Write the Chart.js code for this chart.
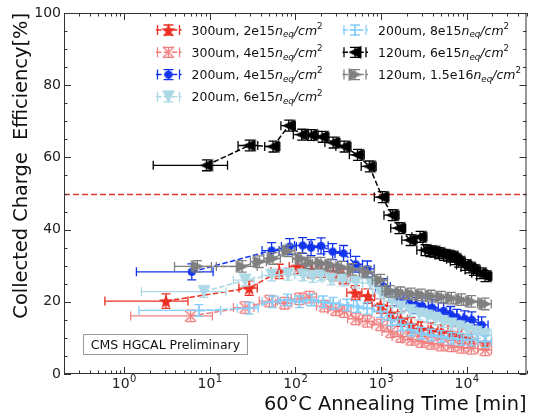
<!DOCTYPE html>
<html>
<head>
<meta charset="utf-8">
<script src="https://cdn.jsdelivr.net/npm/chart.js@4.4.0/dist/chart.umd.min.js"></script>
<style>
  html, body { margin: 0; padding: 0; background: #fff; }
  #chart { display: block; }
</style>
</head>
<body>
<canvas id="chart" width="533" height="413"></canvas>
<script>
// --- Data (annealing time [min] vs CCE [%]) ---

// 300um, 2e15
const rdX  = [3.1, 29, 65, 107, 155, 202, 277, 363, 500, 707, 990, 1300, 1700, 2250, 2950, 3850, 5060, 6640, 8700, 11400, 16500];
const rdY  = [20.2, 23.8, 28.4, 29.8, 28.6, 28.8, 27.9, 27.0, 22.5, 21.6, 18.9, 16.8, 15.2, 13.6, 12.4, 12.2, 11.7, 11.3, 10.4, 9.6, 8.7];
const rdXe = [2.5, 7, 13, 22, 32, 42, 58, 75, 100, 140, 200, 270, 350, 460, 600, 780, 1000, 1300, 1700, 2200, 3000];

// 300um, 4e15
const pkX  = [6.0, 26, 50, 75, 112, 147, 219, 298, 373, 509, 695, 990, 1300, 1700, 2250, 2950, 3850, 5060, 6640, 8700, 11400, 16500];
const pkY  = [16.1, 18.4, 20.2, 19.6, 20.8, 21.3, 18.8, 17.8, 17.3, 15.3, 14.6, 13.6, 11.7, 10.4, 9.6, 9.0, 8.5, 8.0, 7.8, 7.4, 7.1, 6.7];
const pkXe = [4.8, 7, 12, 16, 22, 30, 42, 58, 75, 100, 140, 200, 270, 350, 460, 600, 780, 1000, 1300, 1700, 2200, 3000];

// 200um, 4e15
const blX  = [6.2, 53, 86, 122, 153, 200, 273, 366, 509, 695, 1080, 1550, 2120, 2600, 3020, 3950, 5380, 6500, 7700, 9500, 11500, 15000];
const blY  = [28.3, 34.2, 35.3, 35.6, 35.0, 35.5, 33.9, 33.4, 30.4, 29.1, 24.2, 21.0, 19.8, 19.0, 18.8, 18.4, 17.5, 16.5, 15.7, 15.3, 15.0, 13.6];
const blXe = [4.8, 12, 17, 24, 32, 42, 58, 75, 100, 140, 210, 300, 400, 480, 560, 720, 1000, 1200, 1450, 1800, 2200, 2800];

// 200um, 6e15
const lbX  = [8.6, 26, 53, 82, 122, 160, 200, 261, 357, 509, 760, 1000, 1350, 1700, 2200, 2800, 3500, 4300, 5300, 6600, 8200, 10200, 13000, 16500];
const lbY  = [22.8, 26.0, 27.4, 27.6, 27.4, 27.0, 27.4, 26.3, 26.0, 25.4, 25.1, 22.4, 20.2, 18.5, 17.5, 16.6, 16.0, 15.3, 14.5, 13.8, 13.0, 12.2, 11.5, 10.8];
const lbXe = [7, 7, 12, 17, 24, 32, 42, 55, 75, 100, 150, 200, 270, 350, 440, 560, 700, 860, 1050, 1300, 1600, 2000, 2500, 3000];

// 200um, 8e15
const skX  = [7.5, 29, 54, 81, 112, 155, 211, 277, 400, 525, 690, 990, 1300, 1700, 2250, 2950, 3850, 5060, 6640, 8700, 11400, 16500];
const skY  = [17.6, 18.2, 20.0, 20.5, 20.0, 20.5, 20.0, 19.6, 19.1, 18.7, 18.2, 17.3, 15.0, 13.6, 12.2, 11.3, 10.8, 10.4, 9.9, 9.6, 9.4, 9.0];
const skXe = [6, 8, 13, 18, 24, 32, 44, 58, 80, 105, 140, 200, 270, 350, 460, 600, 780, 1000, 1300, 1700, 2200, 3000];

// 120um, 6e15
const bkX  = [9.2, 29, 55, 84, 119, 154, 206, 277, 372, 533, 733, 1037, 1355, 1622, 2193, 2866,
              3275, 3700, 4130, 4700, 5395, 6000, 6730, 7300, 8055, 9530, 10700, 12020, 14350, 16400];
const bkY  = [57.8, 63.3, 63.0, 68.8, 66.3, 66.2, 65.7, 64.1, 63.0, 60.7, 57.5, 49.0, 44.0, 40.4, 37.1, 38.0,
              34.3, 34.0, 33.9, 33.5, 33.0, 32.8, 32.5, 31.8, 31.1, 30.2, 29.5, 28.8, 27.9, 27.1];
const bkXe = [7, 7.5, 11, 16, 24, 31, 41, 55, 74, 105, 145, 200, 270, 320, 440, 570,
              650, 740, 830, 940, 1080, 1200, 1350, 1460, 1600, 1900, 2100, 2400, 2870, 3280];

// 120um, 1.5e16
const gyX  = [7.2, 24, 38, 55, 82, 117, 150, 200, 260, 345, 470, 700, 993, 1290, 1700, 2250, 2950, 3850, 5060, 6640, 8700, 11400, 16400];
const gyY  = [29.8, 29.8, 31.1, 32.0, 34.1, 32.0, 30.8, 30.7, 30.2, 29.6, 29.0, 28.2, 26.0, 22.9, 22.5, 22.2, 21.9, 21.6, 21.3, 21.0, 20.6, 20.1, 19.4];
const gyXe = [3.3, 12, 8, 12, 17, 24, 30, 42, 55, 72, 100, 140, 200, 260, 350, 460, 600, 780, 1000, 1300, 1700, 2200, 3000];

// y error per series, same order as the legend
const yErrs = [2.0, 1.6, 2.2, 1.6, 1.6, 1.5, 1.6];

const seriesLabels = ['300um, 2e15', '300um, 4e15', '200um, 4e15', '200um, 6e15',
                      '200um, 8e15', '120um, 6e15', '120um, 1.5e16'];
const xMajor = [1, 10, 100, 1000, 10000];
const xMajorExp = ['0', '1', '2', '3', '4'];
const threshold = 50;

const FONT = "'DejaVu Sans', sans-serif";
Chart.defaults.font.family = FONT;

// --- Marker images (matplotlib-like) ---
function makeMarker(size, fn) {
  const c = document.createElement('canvas');
  c.width = size; c.height = size;
  fn(c.getContext('2d'), size / 2);
  return c;
}
const mkStar = makeMarker(18, (g, c) => {
  g.fillStyle = '#eb2f22';
  g.beginPath();
  for (let k = 0; k < 10; k++) {
    const r = k % 2 === 0 ? 7.5 : 3.1;
    const a = -Math.PI / 2 + k * Math.PI / 5;
    g.lineTo(c + r * Math.cos(a), c + 0.8 + r * Math.sin(a));
  }
  g.closePath(); g.fill();
});
const mkX = makeMarker(14, (g, c) => {
  g.strokeStyle = '#f08080'; g.lineWidth = 1.6;
  g.beginPath();
  g.moveTo(c - 5.5, c - 5.5); g.lineTo(c + 5.5, c + 5.5);
  g.moveTo(c + 5.5, c - 5.5); g.lineTo(c - 5.5, c + 5.5);
  g.stroke();
});
const mkCircle = makeMarker(10, (g, c) => {
  g.fillStyle = '#1234ee';
  g.beginPath(); g.arc(c, c, 4, 0, Math.PI * 2); g.fill();
});
const mkDown = makeMarker(16, (g, c) => {
  g.fillStyle = '#add8e6';
  g.beginPath(); g.moveTo(c - 6.5, c - 6.5); g.lineTo(c + 6.5, c - 6.5); g.lineTo(c, c + 6.5); g.closePath(); g.fill();
});
const mkPlus = makeMarker(14, (g, c) => {
  g.strokeStyle = '#87cefa'; g.lineWidth = 1.5;
  g.beginPath();
  g.moveTo(c - 5.5, c); g.lineTo(c + 5.5, c);
  g.moveTo(c, c - 5.5); g.lineTo(c, c + 5.5);
  g.stroke();
});
const mkLeft = makeMarker(16, (g, c) => {
  g.fillStyle = '#000';
  g.beginPath(); g.moveTo(c - 6.5, c); g.lineTo(c + 6.5, c - 6.5); g.lineTo(c + 6.5, c + 6.5); g.closePath(); g.fill();
});
const mkRight = makeMarker(16, (g, c) => {
  g.fillStyle = '#808080';
  g.beginPath(); g.moveTo(c + 6.5, c); g.lineTo(c - 6.5, c - 6.5); g.lineTo(c - 6.5, c + 6.5); g.closePath(); g.fill();
});

const series = [
  { x: rdX, y: rdY, xe: rdXe, color: '#eb2f22', marker: mkStar },
  { x: pkX, y: pkY, xe: pkXe, color: '#f08080', marker: mkX },
  { x: blX, y: blY, xe: blXe, color: '#1234ee', marker: mkCircle },
  { x: lbX, y: lbY, xe: lbXe, color: '#add8e6', marker: mkDown },
  { x: skX, y: skY, xe: skXe, color: '#87cefa', marker: mkPlus },
  { x: bkX, y: bkY, xe: bkXe, color: '#000000', marker: mkLeft },
  { x: gyX, y: gyY, xe: gyXe, color: '#808080', marker: mkRight }
];

const datasets = series.map((s, i) => ({
  label: seriesLabels[i],
  data: s.x.map((x, j) => ({ x: x, y: s.y[j] })),
  xErr: s.xe,
  yErr: yErrs[i],
  showLine: true,
  fill: false,
  borderColor: s.color,
  borderWidth: 1.5,
  borderDash: [5.5, 2.4],
  pointStyle: s.marker,
  pointRadius: 5,
  order: series.length - i   // later series on top, like matplotlib
}));

// --- Plugins ---
const errorBars = {
  id: 'errorBars',
  beforeDatasetDraw(chart, args) {
    const ds = chart.data.datasets[args.index];
    const xs = chart.scales.x, ys = chart.scales.y;
    const ctx = chart.ctx;
    const cap = 4.5;
    ctx.save();
    ctx.strokeStyle = ds.borderColor;
    ctx.lineWidth = 1.3;
    ds.data.forEach((p, j) => {
      const px = xs.getPixelForValue(p.x), py = ys.getPixelForValue(p.y);
      const xl = xs.getPixelForValue(Math.max(p.x - ds.xErr[j], 0.2));
      const xr = xs.getPixelForValue(p.x + ds.xErr[j]);
      const yt = ys.getPixelForValue(p.y + ds.yErr), yb = ys.getPixelForValue(p.y - ds.yErr);
      ctx.beginPath();
      ctx.moveTo(xl, py); ctx.lineTo(xr, py);
      ctx.moveTo(xl, py - cap); ctx.lineTo(xl, py + cap);
      ctx.moveTo(xr, py - cap); ctx.lineTo(xr, py + cap);
      ctx.moveTo(px, yt); ctx.lineTo(px, yb);
      ctx.moveTo(px - cap, yt); ctx.lineTo(px + cap, yt);
      ctx.moveTo(px - cap, yb); ctx.lineTo(px + cap, yb);
      ctx.stroke();
    });
    ctx.restore();
  }
};

const thresholdLine = {
  id: 'thresholdLine',
  beforeDatasetsDraw(chart) {
    const { ctx, chartArea: a, scales: { y } } = chart;
    const py = Math.round(y.getPixelForValue(threshold)) + 0.5;
    ctx.save();
    ctx.strokeStyle = '#e23a30';
    ctx.lineWidth = 1.5;
    ctx.setLineDash([6, 3]);
    ctx.beginPath(); ctx.moveTo(a.left, py); ctx.lineTo(a.right, py); ctx.stroke();
    ctx.restore();
  }
};

// draws "prefix n_eq/cm^2" the way mathtext does
function drawLabel(ctx, text, x, y, size) {
  const parts = [
    { t: text, f: '', s: size, dy: 0 },
    { t: 'n', f: 'italic ', s: size, dy: 0 },
    { t: 'eq', f: 'italic ', s: size * 0.7, dy: size * 0.22 },
    { t: '/cm', f: 'italic ', s: size, dy: 0 },
    { t: '2', f: '', s: size * 0.7, dy: -size * 0.45 }
  ];
  let cx = x;
  parts.forEach(p => {
    ctx.font = p.f + p.s + 'px ' + FONT;
    ctx.fillText(p.t, cx, y + p.dy);
    cx += ctx.measureText(p.t).width;
  });
}

const decorations = {
  id: 'decorations',
  afterDraw(chart) {
    const { ctx, chartArea: a, scales: { x, y } } = chart;
    ctx.save();

    // frame
    ctx.strokeStyle = '#333';
    ctx.lineWidth = 1;
    ctx.strokeRect(a.left + 0.5, a.top + 0.5, a.right - a.left - 1, a.bottom - a.top - 1);

    // inward ticks on all four sides
    ctx.beginPath();
    for (let v = 0; v <= 100; v += 5) {
      const py = Math.round(y.getPixelForValue(v)) + 0.5;
      const len = v % 20 === 0 ? 7 : 3.5;
      ctx.moveTo(a.left, py); ctx.lineTo(a.left + len, py);
      ctx.moveTo(a.right, py); ctx.lineTo(a.right - len, py);
    }
    for (let e = -1; e <= 4; e++) {
      for (let k = 1; k <= 9; k++) {
        const v = k * Math.pow(10, e);
        if (v < x.min || v > x.max) continue;
        const px = Math.round(x.getPixelForValue(v)) + 0.5;
        const len = k === 1 ? 7 : 3.5;
        ctx.moveTo(px, a.bottom); ctx.lineTo(px, a.bottom - len);
        ctx.moveTo(px, a.top); ctx.lineTo(px, a.top + len);
      }
    }
    ctx.stroke();

    // x tick labels 10^n
    ctx.fillStyle = '#222';
    ctx.textBaseline = 'alphabetic';
    ctx.textAlign = 'left';
    xMajor.forEach((v, i) => {
      ctx.font = '14px ' + FONT;
      const wb = ctx.measureText('10').width;
      ctx.font = '10px ' + FONT;
      const we = ctx.measureText(xMajorExp[i]).width;
      const left = x.getPixelForValue(v) - (wb + we) / 2;
      ctx.font = '14px ' + FONT;
      ctx.fillText('10', left, 388);
      ctx.font = '10px ' + FONT;
      ctx.fillText(xMajorExp[i], left + wb + 0.5, 382);
    });

    // axis titles
    ctx.fillStyle = '#111';
    ctx.font = '19.4px ' + FONT;
    ctx.textAlign = 'right';
    ctx.fillText('60°C Annealing Time [min]', a.right, 410);
    ctx.save();
    ctx.translate(27, a.top);
    ctx.rotate(-Math.PI / 2);
    ctx.fillText('Collected Charge  Efficiency[%]', 0, 0);
    ctx.restore();

    // legend, two columns
    const cols = [168.5, 355];
    const textX = [191.5, 378];
    const rows = [30, 52.3, 74.6, 96.8];
    chart.data.datasets.forEach((ds, i) => {
      const col = i < 4 ? 0 : 1;
      const row = i < 4 ? i : i - 4;
      const cx = cols[col], cy = rows[row];
      ctx.strokeStyle = ds.borderColor;
      ctx.lineWidth = 1.5;
      ctx.setLineDash([5.5, 2.4]);
      ctx.beginPath(); ctx.moveTo(cx - 12.5, cy); ctx.lineTo(cx + 13, cy); ctx.stroke();
      ctx.setLineDash([]);
      ctx.lineWidth = 1.3;
      ctx.beginPath();
      ctx.moveTo(cx - 11, cy - 5); ctx.lineTo(cx - 11, cy + 5);
      ctx.moveTo(cx + 11, cy - 5); ctx.lineTo(cx + 11, cy + 5);
      ctx.moveTo(cx, cy - 5); ctx.lineTo(cx, cy + 5);
      ctx.moveTo(cx - 5, cy - 5); ctx.lineTo(cx + 5, cy - 5);
      ctx.moveTo(cx - 5, cy + 5); ctx.lineTo(cx + 5, cy + 5);
      ctx.stroke();
      const m = ds.pointStyle;
      ctx.drawImage(m, cx - m.width / 2, cy - m.height / 2);
      ctx.fillStyle = '#111';
      ctx.textAlign = 'left';
      drawLabel(ctx, ds.label, textX[col], cy + 4.5, 12.5);
    });

    // CMS label box
    ctx.fillStyle = '#fff';
    ctx.fillRect(83.5, 334.5, 164, 20);
    ctx.strokeStyle = '#9a9a9a';
    ctx.lineWidth = 1;
    ctx.strokeRect(83.5, 334.5, 164, 20);
    ctx.fillStyle = '#111';
    ctx.font = '12.5px ' + FONT;
    ctx.textAlign = 'center';
    ctx.fillText('CMS HGCAL Preliminary', 165.5, 349);

    ctx.restore();
  }
};

new Chart(document.getElementById('chart'), {
  type: 'scatter',
  data: { datasets: datasets },
  options: {
    responsive: false,
    animation: false,
    events: [],
    layout: { padding: { top: 13, right: 3, left: 0, bottom: 0 } },
    plugins: { legend: { display: false }, tooltip: { enabled: false } },
    scales: {
      x: {
        type: 'logarithmic',
        min: 0.2,
        max: 50000,
        ticks: { display: false },
        grid: { display: false, drawTicks: false },
        border: { display: false },
        afterFit(s) { s.height = 39; }
      },
      y: {
        min: 0,
        max: 100,
        ticks: { stepSize: 20, color: '#222', font: { size: 14 }, padding: 3 },
        grid: { display: false, drawTicks: false },
        border: { display: false },
        afterFit(s) { s.width = 64; }
      }
    }
  },
  plugins: [thresholdLine, errorBars, decorations]
});
</script>
</body>
</html>
